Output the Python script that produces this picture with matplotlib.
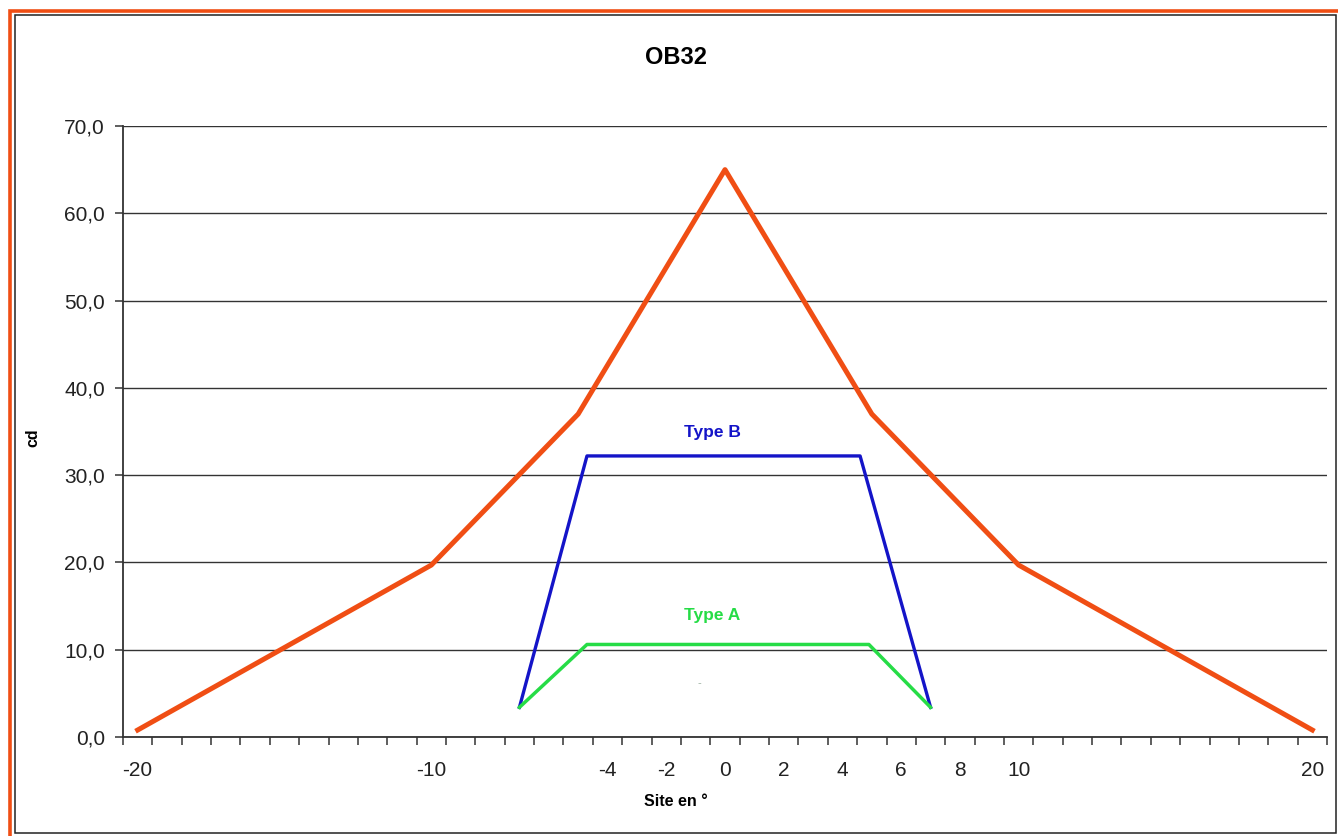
import matplotlib
matplotlib.use("Agg")
import matplotlib.pyplot as plt
from matplotlib.patches import Rectangle
from matplotlib.ticker import FixedLocator, FuncFormatter

# chart data
site_ob32 = [-20, -10, -5, 0, 5, 10, 20]
cd_ob32 = [0.8, 19.7, 37.0, 65.0, 37.0, 19.7, 0.8]

site_type_b = [-7, -4.7, 4.6, 7]
cd_type_b = [3.4, 32.2, 32.2, 3.4]

site_type_a = [-7, -4.7, 4.9, 7]
cd_type_a = [3.4, 10.6, 10.6, 3.4]

x_labels = [-20, -10, -4, -2, 0, 2, 4, 6, 8, 10, 20]
y_ticks = [0, 10, 20, 30, 40, 50, 60, 70]

ORANGE = "#F04E14"
BLUE = "#1414C8"
GREEN = "#26DC46"

plt.rcParams["font.family"] = ["Liberation Sans", "DejaVu Sans"]
plt.rcParams["axes.unicode_minus"] = False

fig = plt.figure(figsize=(13.38, 8.36), dpi=100)
ax = fig.add_axes([123 / 1338, 1 - 737 / 836, (1327 - 123) / 1338, (737 - 126) / 836])

# frames around the whole picture
fig.patches.append(Rectangle((10 / 1338, -0.05), 1.1, 1 - 11.5 / 836 + 0.05,
                             transform=fig.transFigure, fill=False,
                             edgecolor=ORANGE, linewidth=2.6, zorder=0))
fig.patches.append(Rectangle((15 / 1338, 1 - 833 / 836), (1336 - 15) / 1338, (833 - 15) / 836,
                             transform=fig.transFigure, fill=False,
                             edgecolor="#222222", linewidth=1.1, zorder=0))

ax.plot(site_ob32, cd_ob32, color=ORANGE, linewidth=3.6, solid_joinstyle="round", zorder=3)
ax.plot(site_type_b, cd_type_b, color=BLUE, linewidth=2.4, zorder=3)
ax.plot(site_type_a, cd_type_a, color=GREEN, linewidth=2.5, zorder=3)

ax.text(-0.43, 34.9, "Type B", color=BLUE, fontsize=12.5, fontweight="bold",
        ha="center", va="center")
ax.text(-0.45, 13.9, "Type A", color=GREEN, fontsize=12.5, fontweight="bold",
        ha="center", va="center")
ax.text(-0.88, 6.2, "-", color="#9AB0A0", fontsize=8, ha="center", va="center")

ax.set_xlim(-20.5, 20.5)
ax.set_ylim(0, 70)

# category style axis: ticks between categories, labels on chosen categories
ax.xaxis.set_major_locator(FixedLocator(x_labels))
ax.xaxis.set_minor_locator(FixedLocator([v + 0.5 for v in range(-21, 21)]))
ax.tick_params(axis="x", which="major", length=0, pad=17, labelsize=15, labelcolor="#222222")
ax.tick_params(axis="x", which="minor", length=6, width=1.1, color="#333333", direction="out")

ax.set_yticks(y_ticks)
ax.yaxis.set_major_formatter(FuncFormatter(lambda v, p: f"{v:.1f}".replace(".", ",")))
ax.tick_params(axis="y", length=6, width=1.1, color="#333333", pad=7, labelsize=15,
               labelcolor="#222222")

ax.grid(axis="y", color="#333333", linewidth=1.0)
ax.set_axisbelow(True)
for side in ["top", "right"]:
    ax.spines[side].set_visible(False)
for side in ["left", "bottom"]:
    ax.spines[side].set_color("#333333")
    ax.spines[side].set_linewidth(1.3)

fig.text(676 / 1338, 1 - 57 / 836, "OB32", fontsize=17, fontweight="bold",
         ha="center", va="center")
fig.text(676 / 1338, 1 - 801 / 836, "Site en °", fontsize=11.5, fontweight="bold",
         ha="center", va="center")
fig.text(33 / 1338, 1 - 438 / 836, "cd", fontsize=11.5, fontweight="bold",
         ha="center", va="center", rotation=90)

fig.savefig("out.png", dpi=100)
